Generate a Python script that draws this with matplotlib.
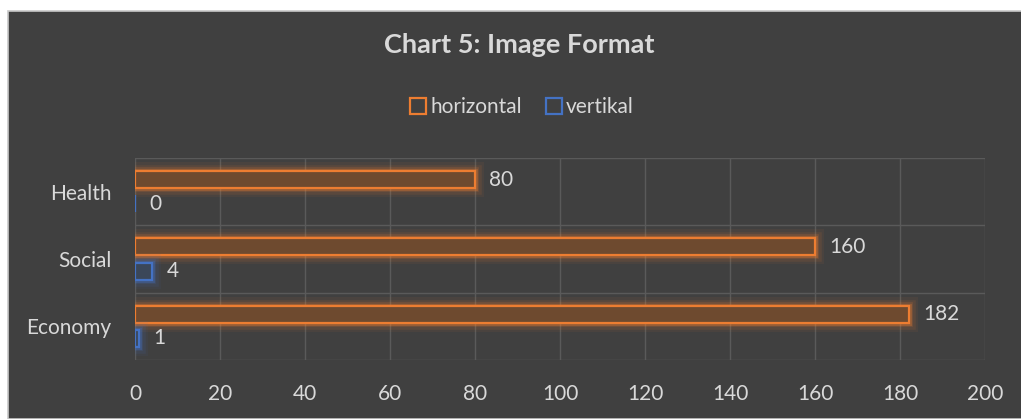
import matplotlib
matplotlib.use("Agg")
import matplotlib.pyplot as plt
import matplotlib.patheffects as pe
from matplotlib.patches import Rectangle
from matplotlib.lines import Line2D
import numpy as np

categories = ["Economy", "Social", "Health"]
horizontal = [182, 160, 80]
vertikal = [1, 4, 0]
xticks = [0, 20, 40, 60, 80, 100, 120, 140, 160, 180, 200]

BG = "#404040"
GRID = "#5a5a5a"
TXT = "#d9d9d9"
ORANGE = "#ed7d31"
BLUE = "#4472c4"

plt.rcParams["font.family"] = ["Lato", "DejaVu Sans"]

fig = plt.figure(figsize=(10.21, 4.19), dpi=100, facecolor="white")
# dark chart panel with a thin light frame
fig.patches.append(Rectangle((8 / 1021, 0), 1, 1 - 11 / 419, transform=fig.transFigure,
                             facecolor=BG, edgecolor="#c8c8c8", lw=1.2, zorder=-5))

ax = fig.add_axes([135 / 1021, 1 - 360 / 419, 850 / 1021, 202 / 419])
ax.set_facecolor(BG)
ax.patch.set_alpha(0)

y = np.arange(len(categories))
h = 0.25
off = 0.18


def glow(color):
    return [pe.Stroke(linewidth=13, foreground=color, alpha=0.06),
            pe.Stroke(linewidth=9, foreground=color, alpha=0.10),
            pe.Stroke(linewidth=5.5, foreground=color, alpha=0.18),
            pe.Stroke(linewidth=3.5, foreground=color, alpha=0.30),
            pe.Normal()]


bh = ax.barh(y + off, horizontal, height=h, facecolor="#6e4a2f",
             edgecolor=ORANGE, linewidth=1.6, zorder=3)
bv = ax.barh(y - off, vertikal, height=h, facecolor="#3b4759",
             edgecolor=BLUE, linewidth=1.6, zorder=3)
for b in bh:
    b.set_path_effects(glow(ORANGE))
for b in bv:
    if b.get_width() > 0:
        b.set_path_effects(glow(BLUE))

for yy, v in zip(y + off, horizontal):
    ax.text(v + 3.4, yy, f"{v}", color=TXT, fontsize=15, va="center", ha="left", zorder=4)
for yy, v in zip(y - off, vertikal):
    ax.text(v + 3.4, yy, f"{v}", color=TXT, fontsize=15, va="center", ha="left", zorder=4)

ax.set_xlim(0, 200)
ax.set_ylim(-0.5, len(categories) - 0.5)
ax.set_xticks(xticks)
ax.set_yticks(y)
ax.set_yticklabels(categories)
ax.set_yticks(np.arange(-0.5, len(categories), 1), minor=True)
ax.grid(axis="x", color=GRID, lw=1, zorder=1)
ax.grid(axis="y", which="minor", color=GRID, lw=1, zorder=1)
ax.tick_params(axis="both", which="both", length=0, colors=TXT, labelsize=15)
ax.tick_params(axis="x", pad=17)
ax.tick_params(axis="y", pad=17)
for s in ax.spines.values():
    s.set_visible(False)

fig.text(519 / 1021, 1 - 45 / 419, "Chart 5: Image Format", color=TXT, fontsize=19.5,
         fontweight="bold", ha="center", va="center")

handles = [Line2D([], [], marker="s", ls="", ms=11, mfc="none", mec=ORANGE, mew=1.6),
           Line2D([], [], marker="s", ls="", ms=11, mfc="none", mec=BLUE, mew=1.6)]
leg = fig.legend(handles, ["horizontal", "vertikal"], loc="center",
                 bbox_to_anchor=(521 / 1021, 1 - 107 / 419), ncol=2, frameon=False,
                 fontsize=15, handletextpad=0.1, columnspacing=1.0, handlelength=1.0)
for t in leg.get_texts():
    t.set_color(TXT)

fig.savefig("out.png", dpi=100, facecolor="white")
